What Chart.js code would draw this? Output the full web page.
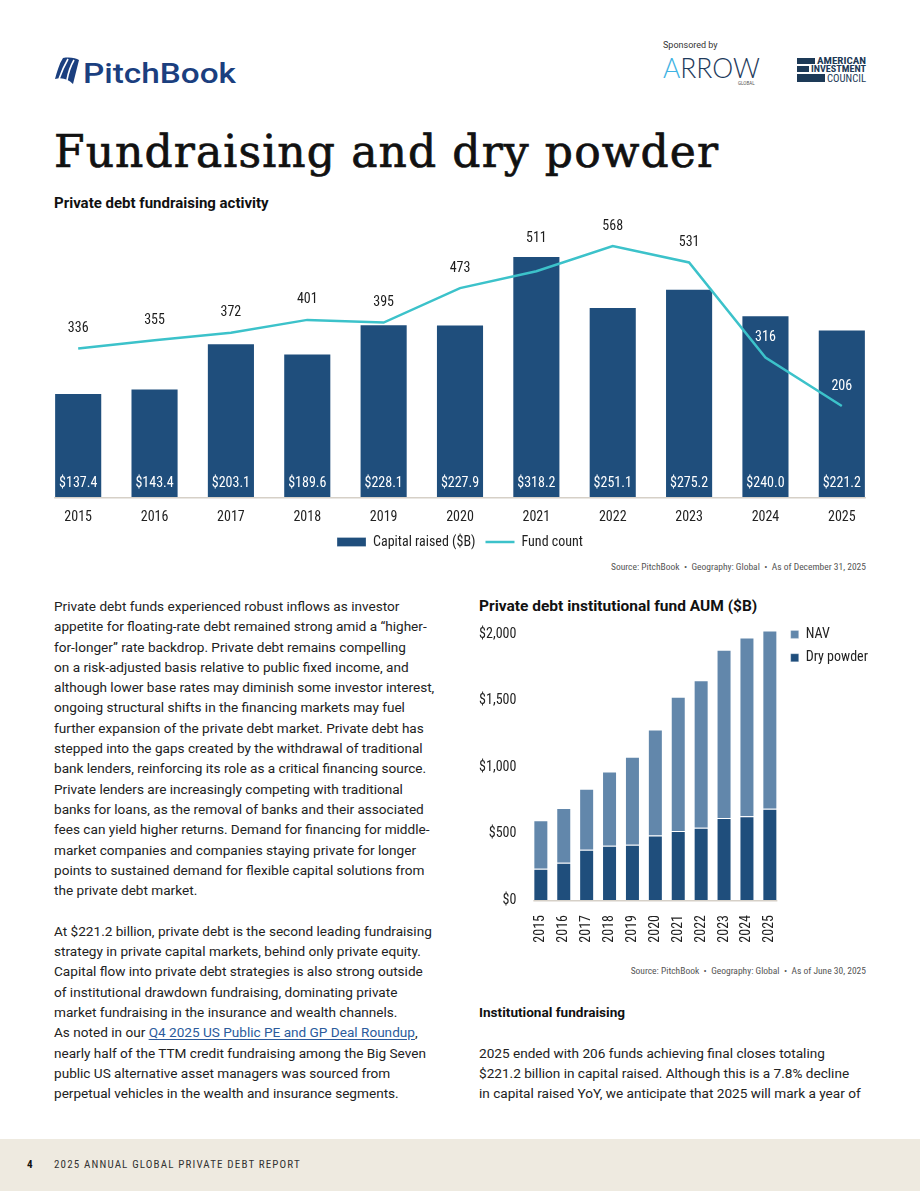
<!DOCTYPE html>
<html>
<head>
<meta charset="utf-8">
<script src="https://cdn.jsdelivr.net/npm/chart.js@4.4.1/dist/chart.umd.min.js"></script>
<style>
  body { margin: 0; width: 920px; height: 1191px; position: relative; overflow: hidden; background: #fff; font-family: Roboto, sans-serif; color: #1d1d1d; }
  .abs { position: absolute; }
  .cond { font-family: 'Roboto Condensed', 'Liberation Sans Narrow', 'DejaVu Sans Condensed', Roboto, sans-serif; }
  .ctitle { font-weight: 700; font-size: 15px; color: #111; white-space: nowrap; }
  .source { font-size: 9.5px; color: #555; white-space: nowrap; text-align: right; }
  .body { font-size: 13.6px; line-height: 20.3px; color: #222; white-space: nowrap; }
  .body a { color: #2b5b9c; text-decoration: underline; text-underline-offset: 2px; }
  canvas { position: absolute; }
</style>
</head>
<body>

<!-- header logos and page title -->
<svg class="abs" style="left:0;top:0" width="920" height="190">
  <path fill="#1b3f7f" d="M63 58 C70 57 76 58 79 60 L73 84 C68 79 62 77 55 79 C57 72 59 64 63 58 Z"/>
  <g stroke="#fff" stroke-width="1.6" fill="none">
    <path d="M68 59 C64 66 61 73 59 79"/>
    <path d="M74 60 C70 67 68 74 67 80"/>
  </g>
  <text x="83" y="83" font-family="Roboto" font-weight="500" font-size="28" fill="#1b3f7f" textLength="153" lengthAdjust="spacingAndGlyphs">PitchBook</text>

  <text x="663" y="48" font-family="Roboto" font-size="9" fill="#333">Sponsored by</text>
  <text x="663" y="78" font-family="Lato" font-weight="300" font-size="28" textLength="97" lengthAdjust="spacingAndGlyphs"><tspan fill="#3fb3e3">A</tspan><tspan fill="#1e3a5c">RROW</tspan></text>
  <text x="738" y="85" font-family="Roboto" font-size="4.5" fill="#555">GLOBAL</text>

  <g fill="#1d3a57">
    <rect x="797" y="58" width="18" height="6"/>
    <rect x="797" y="66" width="12" height="6"/>
    <rect x="797" y="74" width="28" height="8"/>
  </g>
  <g class="cond" font-weight="700" font-size="8.5" fill="#1d3a57">
    <text x="817" y="64" textLength="49" lengthAdjust="spacingAndGlyphs">AMERICAN</text>
    <text x="811" y="72" textLength="55" lengthAdjust="spacingAndGlyphs">INVESTMENT</text>
  </g>
  <text class="cond" x="827" y="82" font-size="10" fill="#1d3a57" textLength="39" lengthAdjust="spacingAndGlyphs">COUNCIL</text>

  <text x="54" y="167" font-family="'DejaVu Serif', serif" font-size="44" fill="#111" stroke="#111" stroke-width="0.7" textLength="664" lengthAdjust="spacing">Fundraising and dry powder</text>
</svg>

<div class="abs ctitle" style="left:54px;top:194px">Private debt fundraising activity</div>
<canvas id="fundChart" width="920" height="344" style="left:0;top:215px"></canvas>
<div class="abs source cond" style="right:54px;top:561px">Source: PitchBook &nbsp;•&nbsp; Geography: Global &nbsp;•&nbsp; As of December 31, 2025</div>

<div class="abs body" style="left:54px;top:596px">Private debt funds experienced robust inflows as investor<br>appetite for floating-rate debt remained strong amid a “higher-<br>for-longer” rate backdrop. Private debt remains compelling<br>on a risk-adjusted basis relative to public fixed income, and<br>although lower base rates may diminish some investor interest,<br>ongoing structural shifts in the financing markets may fuel<br>further expansion of the private debt market. Private debt has<br>stepped into the gaps created by the withdrawal of traditional<br>bank lenders, reinforcing its role as a critical financing source.<br>Private lenders are increasingly competing with traditional<br>banks for loans, as the removal of banks and their associated<br>fees can yield higher returns. Demand for financing for middle-<br>market companies and companies staying private for longer<br>points to sustained demand for flexible capital solutions from<br>the private debt market.<br><br>At $221.2 billion, private debt is the second leading fundraising<br>strategy in private capital markets, behind only private equity.<br>Capital flow into private debt strategies is also strong outside<br>of institutional drawdown fundraising, dominating private<br>market fundraising in the insurance and wealth channels.<br>As noted in our <a>Q4 2025 US Public PE and GP Deal Roundup</a>,<br>nearly half of the TTM credit fundraising among the Big Seven<br>public US alternative asset managers was sourced from<br>perpetual vehicles in the wealth and insurance segments.</div>

<div class="abs ctitle" style="left:479px;top:597px;font-size:15.5px">Private debt institutional fund AUM ($B)</div>
<canvas id="aumChart" width="440" height="340" style="left:460px;top:615px"></canvas>
<div class="abs source cond" style="right:54px;top:965px">Source: PitchBook &nbsp;•&nbsp; Geography: Global &nbsp;•&nbsp; As of June 30, 2025</div>

<div class="abs body" style="left:479px;top:1002px"><b style="color:#111">Institutional fundraising</b><br><br>2025 ended with 206 funds achieving final closes totaling<br>$221.2 billion in capital raised. Although this is a 7.8% decline<br>in capital raised YoY, we anticipate that 2025 will mark a year of</div>

<div class="abs" style="left:0;top:1139px;width:920px;height:52px;background:#eeeae0"></div>
<div class="abs cond" style="left:27px;top:1158px;font-size:11px;font-weight:700;color:#111">4</div>
<div class="abs cond" style="left:54px;top:1158px;font-size:11px;letter-spacing:1.15px;color:#333">2025 ANNUAL GLOBAL PRIVATE DEBT REPORT</div>

<script>
const years = ['2015', '2016', '2017', '2018', '2019', '2020', '2021', '2022', '2023', '2024', '2025'];
const capitalRaised = [137.4, 143.4, 203.1, 189.6, 228.1, 227.9, 318.2, 251.1, 275.2, 240.0, 221.2];
const fundCount = [336, 355, 372, 401, 395, 473, 511, 568, 531, 316, 206];

// AUM chart, $B
const dryPowder = [235, 280, 378, 408, 415, 486, 520, 543, 618, 631, 686];
const nav = [365, 413, 460, 560, 664, 798, 1009, 1111, 1266, 1344, 1343];
const aumTicks = ['$0', '$500', '$1,000', '$1,500', '$2,000'];

const NAVY = '#1f4e7c';
const STEEL = '#6287ab';
const TEAL = '#3cc2ca';
const FONT = "'Roboto Condensed', 'Liberation Sans Narrow', 'DejaVu Sans Condensed', Roboto, sans-serif";

Chart.defaults.font.family = FONT;
Chart.defaults.font.size = 14;
Chart.defaults.color = '#222';

// grey base line under the bars only
function drawBase(chart, ctx) {
  const bars = chart.getDatasetMeta(0).data;
  const first = bars[0], last = bars[bars.length - 1];
  const base = chart.scales.y.getPixelForValue(0);
  ctx.save();
  ctx.strokeStyle = '#d6d0c7';
  ctx.lineWidth = 1.5;
  ctx.beginPath();
  ctx.moveTo(first.x - first.width / 2, base + 0.75);
  ctx.lineTo(last.x + last.width / 2, base + 0.75);
  ctx.stroke();
  ctx.restore();
}

const fundLabels = {
  id: 'fundLabels',
  afterDatasetsDraw(chart) {
    const ctx = chart.ctx;
    drawBase(chart, ctx);
    const bars = chart.getDatasetMeta(0).data;
    const pts = chart.getDatasetMeta(1).data;
    const base = chart.scales.y.getPixelForValue(0);
    ctx.save();
    ctx.font = '14px ' + FONT;
    ctx.textAlign = 'center';
    ctx.textBaseline = 'middle';
    bars.forEach((b, i) => {
      ctx.fillStyle = '#fff';
      ctx.fillText('$' + capitalRaised[i].toFixed(1), b.x, base - 14);
    });
    pts.forEach((p, i) => {
      const top = bars[i].y;
      let y = p.y - 20;
      if (y + 7 > top && y - 7 < top) y = top - 18;
      ctx.fillStyle = y > top ? '#fff' : '#1d1d1d';
      ctx.fillText(String(fundCount[i]), p.x, y);
    });
    ctx.restore();
  }
};

new Chart(document.getElementById('fundChart'), {
  data: {
    labels: years,
    datasets: [
      {
        type: 'bar', label: 'Capital raised ($B)', data: capitalRaised,
        backgroundColor: NAVY, borderColor: 'rgba(255,255,255,0.25)', borderWidth: 1,
        barPercentage: 0.63, categoryPercentage: 1, yAxisID: 'y', order: 1, pointStyle: 'rect'
      },
      {
        type: 'line', label: 'Fund count', data: fundCount,
        borderColor: TEAL, backgroundColor: TEAL, borderWidth: 2.5, pointRadius: 0, tension: 0,
        yAxisID: 'y1', order: 0, pointStyle: 'line'
      }
    ]
  },
  options: {
    responsive: false,
    animation: false,
    layout: { padding: { left: 40, right: 40, top: 17, bottom: 0 } },
    scales: {
      x: {
        grid: { display: false, drawTicks: false }, border: { display: false }, ticks: { padding: 12 },
        afterFit: s => { s.height = 28; }
      },
      y: { display: false, min: 0, max: 350 },
      y1: { display: false, min: 0, max: 600, position: 'right' }
    },
    plugins: {
      legend: {
        position: 'bottom',
        labels: {
          usePointStyle: true, pointStyleWidth: 29, boxHeight: 9, padding: 10,
          sort: (a, b) => a.datasetIndex - b.datasetIndex
        }
      },
      tooltip: { enabled: false }
    }
  },
  plugins: [fundLabels]
});

const aum = new Chart(document.getElementById('aumChart'), {
  type: 'bar',
  data: {
    labels: years,
    datasets: [
      { label: 'Dry powder', data: dryPowder, backgroundColor: NAVY, borderColor: 'rgba(255,255,255,0.25)', borderWidth: 1 },
      { label: 'NAV', data: nav, backgroundColor: STEEL, borderColor: 'rgba(255,255,255,0.25)', borderWidth: 1 }
    ]
  },
  options: {
    responsive: false,
    animation: false,
    datasets: { bar: { barPercentage: 0.655, categoryPercentage: 1, clip: false } },
    layout: { padding: { left: 19, right: 0, top: 3, bottom: 0 } },
    scales: {
      x: {
        stacked: true,
        grid: { display: false, drawTicks: false }, border: { display: false },
        ticks: { minRotation: 90, maxRotation: 90, padding: 15 },
        afterFit: s => { s.height = 55; }
      },
      y: {
        stacked: true, min: 0, max: 2000,
        grid: { display: false, drawTicks: false }, border: { display: false },
        ticks: { stepSize: 500, padding: 13, callback: (v, i) => aumTicks[i] },
        afterFit: s => { s.width = 50.4; s.paddingTop = 19.3; }
      }
    },
    plugins: {
      legend: {
        position: 'right', align: 'start', reverse: true,
        labels: { boxWidth: 8, boxHeight: 8, padding: 9.4 }
      },
      tooltip: { enabled: false }
    }
  },
  plugins: [{ id: 'aumBase', afterDatasetsDraw(chart) { drawBase(chart, chart.ctx); } }]
});
// pin the plot's right edge so the legend sits where the reference has it
aum.options.layout.padding.right = aum.chartArea.right - 321.3;
aum.update();
</script>
</body>
</html>
